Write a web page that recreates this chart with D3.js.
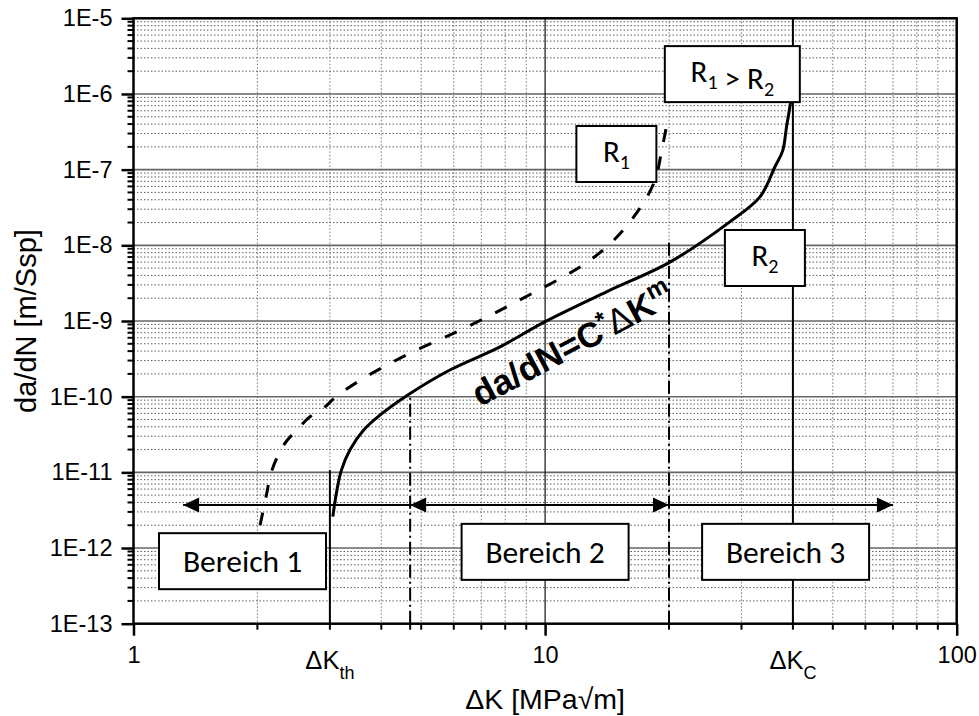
<!DOCTYPE html>
<html>
<head>
<meta charset="utf-8">
<script src="https://cdn.jsdelivr.net/npm/d3@7.9.0/dist/d3.min.js"></script>
<style>
    body { margin: 0; background: #fff; }
    svg { display: block; font-family: Arial, "Liberation Sans", sans-serif; }
    .box text { font-family: Carlito, Calibri, Lato, sans-serif; }
</style>
</head>
<body>
<svg id="chart" width="979" height="716"></svg>
<script>
// --- data ---
const xDomain = [1, 100];
const yDomain = [1e-13, 1e-5];
const xLabelTicks = [1, 10, 100];
const yDecades = [-13, -12, -11, -10, -9, -8, -7, -6, -5];
const minorFactors = [2, 3, 4, 5, 6, 7, 8, 9];

// dashed curve (R1)
const curveR1 = [
    [2.03, 2.0e-12], [2.10, 4.8e-12], [2.17, 1.07e-11], [2.33, 2.4e-11],
    [2.49, 3.6e-11], [2.68, 5.4e-11], [2.89, 7.0e-11], [3.12, 1.02e-10],
    [3.62, 1.75e-10], [4.2, 2.75e-10], [4.97, 4.35e-10], [5.93, 6.7e-10],
    [6.91, 1.0e-9], [8.02, 1.51e-9], [9.31, 2.32e-9], [10.9, 3.66e-9],
    [12.67, 6.0e-9], [14.8, 1.22e-8], [17, 3.1e-8], [18.5, 7.3e-8],
    [19.2, 1.8e-7], [19.75, 3.9e-7],
];

// solid curve (R2)
const curveR2 = [
    [3.05, 2.6e-12], [3.12, 5.8e-12], [3.2, 1.07e-11], [3.36, 2.0e-11],
    [3.62, 3.6e-11], [3.97, 5.7e-11], [4.7, 1.1e-10], [5.87, 2.25e-10],
    [7.77, 4.55e-10], [10, 9.8e-10], [14.1, 2.43e-9], [20.1, 6.0e-9],
    [28.1, 2.04e-8], [33.3, 4.4e-8], [36.2, 1.1e-7], [37.8, 1.8e-7],
    [38.6, 3.7e-7], [39.5, 7.9e-7], [39.8, 1.2e-6],
];

const boundaryLines = [
    { k: 3, top: 1.07e-11, kind: 'solid' },
    { k: 4.7, top: 1.1e-10, kind: 'dashdot' },
    { k: 20, top: 1.1e-8, kind: 'dashdot' },
    { k: 40, top: 1e-5, kind: 'solid' },
];
const namedTicks = [
    { k: 3, main: 'ΔK', sub: 'th' },
    { k: 40, main: 'ΔK', sub: 'C' },
];

const arrowLevel = 3.7e-12;
const arrowSpan = [1.32, 70];
const arrowHeads = [
    { k: 1.32, dir: -1 }, { k: 4.7, dir: -1 },
    { k: 20, dir: 1 }, { k: 70, dir: 1 },
];

const regionLabels = [
    { text: 'Bereich 1', k: 1.84, v: 6.7e-13 },
    { text: 'Bereich 2', k: 10, v: 8.9e-13 },
    { text: 'Bereich 3', k: 38.4, v: 8.9e-13 },
];
const ratioLabels = [
    { parts: [['R', '1'], [' > R', '2']], k: 28.5, v: 1.83e-6, wide: true },
    { parts: [['R', '1']], k: 14.9, v: 1.61e-7, wide: false },
    { parts: [['R', '2']], k: 34.2, v: 6.8e-9, wide: false },
];
const formulaAnchor = { k: 6.95, v: 7.3e-11 };

// --- layout ---
const width = 979;
const height = 716;
const margin = { top: 18.3, right: 22.3, bottom: 92.3, left: 133.5 };
const usableArea = {
    top: margin.top,
    right: width - margin.right,
    bottom: height - margin.bottom,
    left: margin.left,
};

const svg = d3.select('#chart');

const xScale = d3.scaleLog().domain(xDomain).range([usableArea.left, usableArea.right]);
const yScale = d3.scaleLog().domain(yDomain).range([usableArea.bottom, usableArea.top]);

const xMinor = [1, 10].flatMap((b) => minorFactors.map((f) => b * f));
const yMinor = yDecades.slice(0, -1).flatMap((e) => minorFactors.map((f) => f * Math.pow(10, e)));
const yMajor = yDecades.map((e) => Math.pow(10, e));

// minor grid (dotted)
const grid = svg.append('g').attr('class', 'grid');
grid.selectAll('line.hminor')
    .data(yMinor)
    .join('line')
    .attr('x1', usableArea.left).attr('x2', usableArea.right)
    .attr('y1', (d) => yScale(d)).attr('y2', (d) => yScale(d))
    .attr('stroke', '#333').attr('stroke-width', 0.8)
    .attr('stroke-dasharray', '1.5,2');
grid.selectAll('line.vminor')
    .data(xMinor)
    .join('line')
    .attr('x1', (d) => xScale(d)).attr('x2', (d) => xScale(d))
    .attr('y1', usableArea.top).attr('y2', usableArea.bottom)
    .attr('stroke', '#555').attr('stroke-width', 0.8)
    .attr('stroke-dasharray', '1.5,2');

// major grid
grid.append('g').selectAll('line')
    .data(yMajor.slice(1, -1))
    .join('line')
    .attr('x1', usableArea.left).attr('x2', usableArea.right)
    .attr('y1', (d) => yScale(d)).attr('y2', (d) => yScale(d))
    .attr('stroke', '#666').attr('stroke-width', 1.6);
grid.append('line')
    .attr('x1', xScale(10)).attr('x2', xScale(10))
    .attr('y1', usableArea.top).attr('y2', usableArea.bottom)
    .attr('stroke', '#111').attr('stroke-width', 1.2);

// boundary lines
svg.append('g').selectAll('line')
    .data(boundaryLines)
    .join('line')
    .attr('x1', (d) => xScale(d.k)).attr('x2', (d) => xScale(d.k))
    .attr('y1', usableArea.bottom).attr('y2', (d) => yScale(d.top))
    .attr('stroke', '#000')
    .attr('stroke-width', 2)
    .attr('stroke-dasharray', (d) => d.kind === 'dashdot' ? '13,4,2,4' : null);

// curves
const line = d3.line()
    .x((d) => xScale(d[0]))
    .y((d) => yScale(d[1]))
    .curve(d3.curveCatmullRom.alpha(0.5));

svg.append('path')
    .datum(curveR1)
    .attr('d', line)
    .attr('fill', 'none')
    .attr('stroke', '#000')
    .attr('stroke-width', 3)
    .attr('stroke-dasharray', '13,15');

svg.append('path')
    .datum(curveR2)
    .attr('d', line)
    .attr('fill', 'none')
    .attr('stroke', '#000')
    .attr('stroke-width', 3);

// arrows
const ay = yScale(arrowLevel);
svg.append('line')
    .attr('x1', xScale(arrowSpan[0])).attr('x2', xScale(arrowSpan[1]))
    .attr('y1', ay).attr('y2', ay)
    .attr('stroke', '#000').attr('stroke-width', 2);
svg.append('g').selectAll('path')
    .data(arrowHeads)
    .join('path')
    .attr('d', (d) => {
        const tx = xScale(d.k);
        const bx = tx - d.dir * 16;
        return `M${tx},${ay}L${bx},${ay - 7.5}L${bx},${ay + 7.5}Z`;
    })
    .attr('fill', '#000');

// formula label
const fx = xScale(formulaAnchor.k);
const fy = yScale(formulaAnchor.v);
const formula = svg.append('text')
    .attr('transform', `translate(${fx},${fy}) rotate(-28)`)
    .attr('font-size', 35)
    .attr('font-weight', 'bold');
formula.append('tspan').text('da/dN=C');
formula.append('tspan').attr('dy', -12).attr('font-size', 24).text('*');
formula.append('tspan').attr('dy', 12).attr('font-weight', 'normal').text('Δ');
formula.append('tspan').text('K');
formula.append('tspan').attr('dy', -14).attr('font-size', 24).text('m');

// boxes
const boxes = svg.append('g').attr('class', 'box');

regionLabels.forEach((d) => {
    const cx = xScale(d.k);
    const cy = yScale(d.v);
    boxes.append('rect')
        .attr('x', cx - 83.5).attr('y', cy - 28)
        .attr('width', 167).attr('height', 56)
        .attr('fill', '#fff').attr('stroke', '#000').attr('stroke-width', 2);
    boxes.append('text')
        .attr('x', cx).attr('y', cy + 11)
        .attr('text-anchor', 'middle')
        .attr('font-size', 31.5)
        .text(d.text);
});

ratioLabels.forEach((d) => {
    const cx = xScale(d.k);
    const cy = yScale(d.v);
    const w = d.wide ? 135 : 80;
    boxes.append('rect')
        .attr('x', cx - w / 2).attr('y', cy - 28)
        .attr('width', w).attr('height', 56)
        .attr('fill', '#fff').attr('stroke', '#000').attr('stroke-width', 2);
    const t = boxes.append('text')
        .attr('x', cx).attr('y', cy + 8)
        .attr('text-anchor', 'middle')
        .attr('font-size', 31);
    d.parts.forEach(([main, sub]) => {
        t.append('tspan').text(main);
        t.append('tspan').attr('dy', 7).attr('font-size', 20).text(sub);
        t.append('tspan').attr('dy', -7).text('');
    });
});

// axes frame
svg.append('rect')
    .attr('x', usableArea.left).attr('y', usableArea.top)
    .attr('width', usableArea.right - usableArea.left)
    .attr('height', usableArea.bottom - usableArea.top)
    .attr('fill', 'none').attr('stroke', '#000').attr('stroke-width', 2.5);

// y axis
const yAxis = d3.axisLeft(yScale)
    .tickValues(yMajor)
    .tickSize(12)
    .tickPadding(9)
    .tickFormat((d) => `1E${Math.round(Math.log10(d))}`);
const gy = svg.append('g')
    .attr('transform', `translate(${usableArea.left},0)`)
    .call(yAxis);
gy.select('.domain').remove();
gy.selectAll('line').attr('stroke-width', 2.5);
gy.selectAll('text').attr('font-size', 23.5).attr('fill', '#000');

svg.append('g').selectAll('line')
    .data(yMinor)
    .join('line')
    .attr('x1', usableArea.left - 6).attr('x2', usableArea.left)
    .attr('y1', (d) => yScale(d)).attr('y2', (d) => yScale(d))
    .attr('stroke', '#000').attr('stroke-width', 2);

// x axis
const xAxis = d3.axisBottom(xScale)
    .tickValues(xLabelTicks)
    .tickSize(12)
    .tickPadding(11)
    .tickFormat(d3.format('d'));
const gx = svg.append('g')
    .attr('transform', `translate(0,${usableArea.bottom})`)
    .call(xAxis);
gx.select('.domain').remove();
gx.selectAll('line').attr('stroke-width', 2.5);
gx.selectAll('text').attr('font-size', 23.5).attr('fill', '#000');

svg.append('g').selectAll('line')
    .data(xMinor.concat([4.7]))
    .join('line')
    .attr('x1', (d) => xScale(d)).attr('x2', (d) => xScale(d))
    .attr('y1', usableArea.bottom).attr('y2', usableArea.bottom + 6)
    .attr('stroke', '#000').attr('stroke-width', 2);

// named ticks (ΔKth, ΔKC)
namedTicks.forEach((d) => {
    const t = svg.append('text')
        .attr('x', xScale(d.k))
        .attr('y', usableArea.bottom + 45)
        .attr('text-anchor', 'middle')
        .attr('font-size', 25.5);
    t.append('tspan').text(d.main);
    t.append('tspan').attr('dy', 10).attr('font-size', 18).text(d.sub);
});

// axis titles
svg.append('text')
    .attr('x', (usableArea.left + usableArea.right) / 2)
    .attr('y', 709)
    .attr('text-anchor', 'middle')
    .attr('font-size', 28.5)
    .text('ΔK [MPa√m]');

svg.append('text')
    .attr('transform', `translate(36,${(usableArea.top + usableArea.bottom) / 2}) rotate(-90)`)
    .attr('text-anchor', 'middle')
    .attr('font-size', 29)
    .text('da/dN [m/Ssp]');
</script>
</body>
</html>
